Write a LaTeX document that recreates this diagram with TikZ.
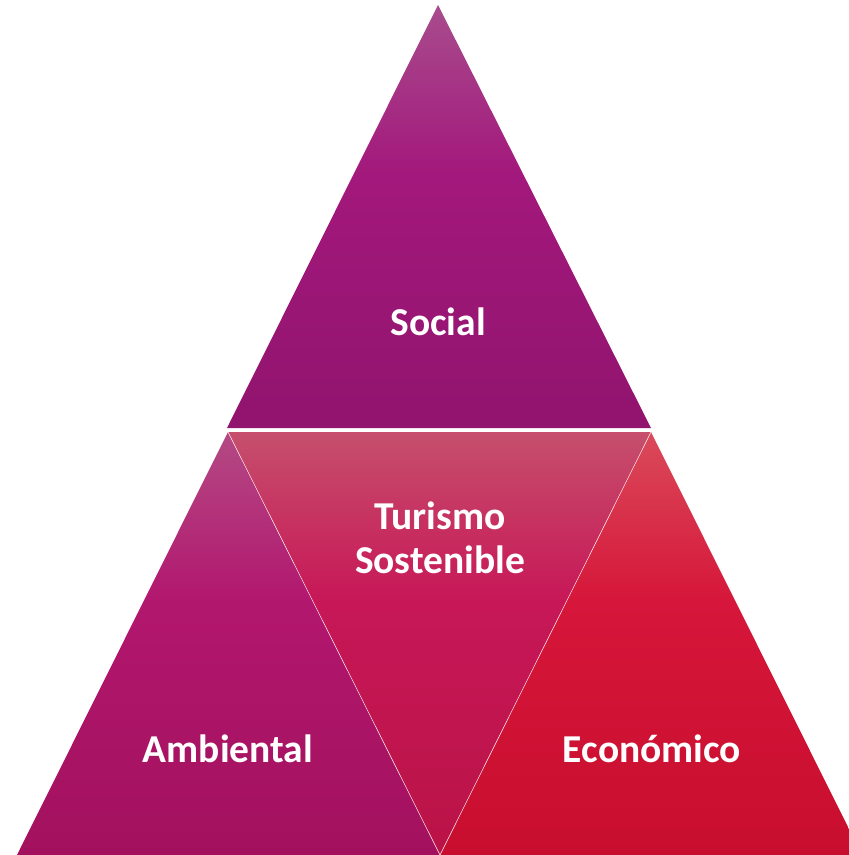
\documentclass[tikz,border=0pt]{standalone}
\usepackage{fontspec}
\setmainfont{Carlito}
\usepackage{xcolor}
\usepackage{tikz}

\definecolor{socA}{HTML}{A84C8D}
\definecolor{socM}{HTML}{A3187C}
\definecolor{socB}{HTML}{91146E}
\definecolor{ambA}{HTML}{B34A84}
\definecolor{ambM}{HTML}{B2176E}
\definecolor{ambB}{HTML}{A3115E}
\definecolor{turA}{HTML}{C64F6C}
\definecolor{turM}{HTML}{C71757}
\definecolor{turB}{HTML}{BA1347}
\definecolor{ecoA}{HTML}{DA4A5A}
\definecolor{ecoM}{HTML}{D6163A}
\definecolor{ecoB}{HTML}{C80E2F}

\pgfdeclareverticalshading{socshade}{100bp}{color(0bp)=(socB); color(25bp)=(socB); color(55bp)=(socM); color(75bp)=(socA); color(100bp)=(socA)}
\pgfdeclareverticalshading{ambshade}{100bp}{color(0bp)=(ambB); color(25bp)=(ambB); color(55bp)=(ambM); color(75bp)=(ambA); color(100bp)=(ambA)}
\pgfdeclareverticalshading{turshade}{100bp}{color(0bp)=(turB); color(25bp)=(turB); color(55bp)=(turM); color(75bp)=(turA); color(100bp)=(turA)}
\pgfdeclareverticalshading{ecoshade}{100bp}{color(0bp)=(ecoB); color(25bp)=(ecoB); color(55bp)=(ecoM); color(75bp)=(ecoA); color(100bp)=(ecoA)}

\tikzset{label text/.style={white,align=center,font=\bfseries\fontsize{39.5}{44}\selectfont}}

\begin{document}
\begin{tikzpicture}[x=1pt,y=-1pt]
\useasboundingbox (0,0) rectangle (849,855);
\clip (0,0) rectangle (849,855);
%
\shade [shading=socshade] (438,5) -- (651,428) -- (227,428) -- cycle;
\shade [shading=ambshade] (228,432) -- (440,855) -- (17,855) -- cycle;
\shade [shading=turshade] (228,432) -- (651,432) -- (440,855) -- cycle;
\shade [shading=ecoshade] (651,432) -- (862,855) -- (440,855) -- cycle;
%%
\draw [white!70!pink,line width=0.5pt] (228,432) -- (440,855) -- (651,432);
%%
\node (social) at (438,322) [label text] {Social};
\node (turismo) at (440,538) [label text] {Turismo\\Sostenible};
\node (ambiental) at (228,749) [label text] {Ambiental};
\node (economico) at (652,749) [label text] {Económico};
\end{tikzpicture}
\end{document}
